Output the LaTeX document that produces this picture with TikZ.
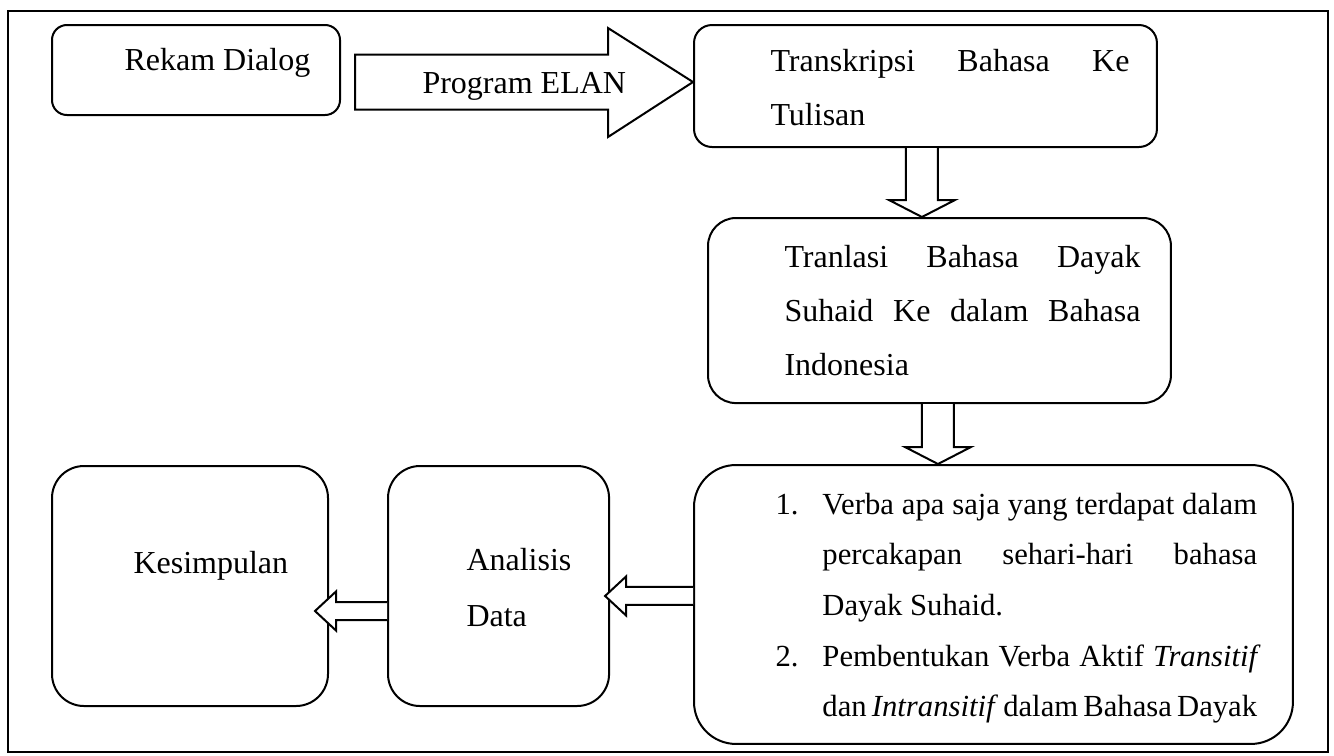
\documentclass[tikz,border=0pt]{standalone}
\usepackage{fontspec}
\setmainfont{Liberation Serif}
\usetikzlibrary{calc}
\tolerance=10000
\hyphenpenalty=10000
\exhyphenpenalty=10000

\begin{document}
\begin{tikzpicture}[
    x=0.375pt, y=-0.375pt,
    every node/.style={font=\fontsize{12}{20.4}\selectfont},
    box/.style={draw, line width=0.75pt, anchor=north west, inner sep=0pt},
    txt/.style={anchor=base west, inner sep=0pt, align=justify},
    blk/.style={draw, line width=0.75pt, fill=white, line join=miter}
]
\def\blkdown#1#2{\draw[blk] ($(#1)+(-16,0)$) -- ($(#2)+(-16,-17)$) -- ($(#2)+(-33,-17)$) -- (#2) -- ($(#2)+(33,-17)$) -- ($(#2)+(16,-17)$) -- ($(#1)+(16,0)$);}
\def\blkleft#1#2{\draw[blk] ($(#1)+(0,-9)$) -- ($(#2)+(21,-9)$) -- ($(#2)+(21,-19.5)$) -- (#2) -- ($(#2)+(21,19.5)$) -- ($(#2)+(21,9)$) -- ($(#1)+(0,9)$);}
\useasboundingbox (0,0) rectangle (1334,755);
\draw[line width=0.75pt] (8,11) rectangle (1328,752);
\node[box, rounded corners=5.6pt,  minimum width=108pt,   minimum height=33.75pt] (rekam) at (51,24) {};
\node[box, rounded corners=6.75pt, minimum width=173.6pt, minimum height=45.75pt] (trans) at (693,24) {};
\node[box, rounded corners=10.5pt, minimum width=173.6pt, minimum height=69.4pt]  (tranl) at (707,217) {};
\node[box, rounded corners=15.75pt,minimum width=224.6pt, minimum height=104.6pt] (list)  at (693,464) {};
\node[box, rounded corners=12pt,   minimum width=82.9pt,  minimum height=90pt]    (an)    at (387,465) {};
\node[box, rounded corners=12pt,   minimum width=103.5pt, minimum height=90pt]    (kes)   at (51,465) {};
\coordinate (e0) at ($(rekam.east)+(14,12)$);
\coordinate (e1) at ($(trans.west)+(0,-4)$);
\draw[blk] ($(e0)+(0,-27.5)$) -- ($(e1)+(-85,-27.5)$) -- ($(e1)+(-85,-54)$) -- (e1) -- ($(e1)+(-85,55)$) -- ($(e1)+(-85,27.5)$) -- ($(e0)+(0,27.5)$) -- cycle;
\coordinate (d1a) at ($(trans.south)+(-3.5,0)$);
\coordinate (d1b) at (d1a |- tranl.north);
\blkdown{d1a}{d1b}
\coordinate (d2a) at ($(tranl.south)+(-1.5,0)$);
\coordinate (d2b) at (d2a |- list.north);
\blkdown{d2a}{d2b}
\coordinate (l1a) at ($(list.west)+(0,-8.5)$);
\coordinate (l1b) at ($(l1a -| an.east)+(-5,0)$);
\blkleft{l1a}{l1b}
\coordinate (l2a) at ($(an.west)+(0,25)$);
\coordinate (l2b) at ($(l2a -| kes.east)+(-14,0)$);
\blkleft{l2a}{l2b}
\node[txt] (rekamT) at (124,70) {Rekam Dialog};
\node[txt] (elanT)  at (422,93) {Program ELAN};
\node[txt, text width=134.6pt] (transT) at (770,71) {Transkripsi Bahasa Ke Tulisan};
\node[txt, text width=133.5pt] (tranlT) at (784,267) {Tranlasi Bahasa Dayak Suhaid Ke dalam Bahasa Indonesia};
\node[txt, text width=60pt, align=left, font=\fontsize{12}{21}\selectfont] (anT) at (466,570) {Analisis\\Data};
\node[txt] (kesT) at (133,573) {Kesimpulan};
\node[txt, text width=180.6pt, font=\fontsize{11.5}{19}\selectfont] (listT) at (775,514) {%
  \hangindent=17.6pt\hangafter=1\noindent\hbox to 17.6pt{1.\hfil}Verba apa saja yang terdapat dalam percakapan sehari-hari bahasa Dayak Suhaid.\par
  \hangindent=17.6pt\hangafter=1\noindent\hbox to 17.6pt{2.\hfil}Pembentukan Verba Aktif \textit{Transitif} dan \textit{Intransitif} dalam Bahasa Dayak\par};
\end{tikzpicture}
\end{document}
